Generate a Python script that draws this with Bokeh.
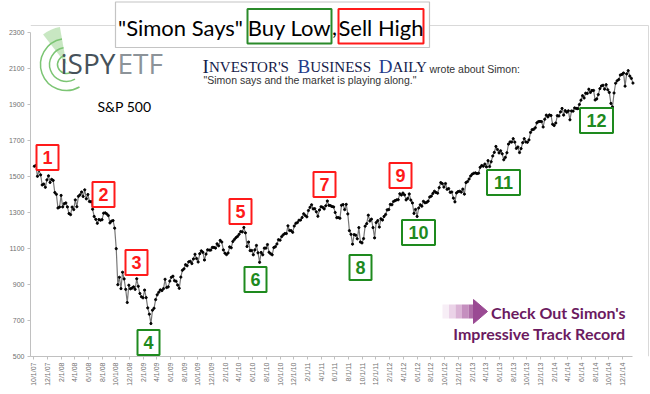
import pandas as pd
from math import pi
from bokeh.plotting import figure
from bokeh.models import Range1d, FixedTicker, Label, ColumnDataSource
from bokeh.core.properties import value
from bokeh.embed import file_html
from bokeh.resources import INLINE

# ---------------- data (weekly S&P 500 closes) ----------------
first_week = "2007-10-05"
close_2007 = [1557, 1561, 1501, 1535, 1509, 1453, 1458, 1440, 1481, 1504, 1467, 1484, 1478]
close_2008 = [1411, 1401, 1325, 1330, 1395, 1331, 1349, 1353, 1331, 1294, 1288, 1330, 1316,
              1370, 1332, 1390, 1398, 1414, 1389, 1426, 1376, 1400, 1361, 1360, 1318, 1278,
              1262, 1240, 1261, 1257, 1260, 1296, 1298, 1292, 1283, 1242, 1252, 1255, 1213,
              1099, 899, 940, 877, 968, 931, 873, 800, 896, 876, 880, 887, 873]
close_2009 = [932, 890, 850, 832, 826, 869, 827, 770, 735, 683, 757, 768, 816, 843, 857, 870,
              866, 877, 929, 883, 887, 919, 940, 946, 921, 918, 897, 879, 941, 979, 987, 1010,
              1004, 1026, 1029, 1016, 1042, 1068, 1044, 1025, 1071, 1087, 1079, 1036, 1069,
              1093, 1091, 1091, 1106, 1106, 1102, 1126]
close_2010 = [1115, 1145, 1136, 1092, 1074, 1066, 1075, 1109, 1104, 1139, 1150, 1160, 1167,
              1179, 1194, 1192, 1217, 1187, 1111, 1136, 1088, 1089, 1065, 1092, 1117, 1076,
              1023, 1078, 1065, 1102, 1102, 1122, 1079, 1071, 1065, 1105, 1110, 1125, 1149,
              1146, 1166, 1176, 1183, 1183, 1226, 1200, 1199, 1190, 1225, 1240, 1244, 1257, 1258]
close_2011 = [1272, 1293, 1283, 1276, 1311, 1329, 1343, 1320, 1321, 1304, 1279, 1314, 1332,
              1329, 1320, 1337, 1364, 1340, 1338, 1333, 1331, 1300, 1271, 1272, 1268, 1340,
              1344, 1316, 1345, 1292, 1199, 1179, 1124, 1177, 1174, 1154, 1216, 1136, 1131,
              1155, 1224, 1238, 1285, 1253, 1263, 1216, 1159, 1244, 1255, 1219, 1265, 1258]
close_2012 = [1278, 1289, 1315, 1316, 1345, 1343, 1361, 1366, 1370, 1371, 1404, 1397, 1408,
              1398, 1370, 1378, 1403, 1369, 1353, 1295, 1317, 1278, 1325, 1343, 1335, 1362,
              1354, 1356, 1363, 1386, 1391, 1406, 1418, 1411, 1407, 1438, 1466, 1460, 1441,
              1461, 1429, 1433, 1412, 1414, 1380, 1359, 1409, 1416, 1418, 1413, 1430, 1402]
close_2013 = [1466, 1472, 1486, 1503, 1513, 1518, 1520, 1516, 1518, 1551, 1561, 1557, 1569,
              1553, 1588, 1555, 1582, 1614, 1634, 1667, 1650, 1631, 1643, 1626, 1593, 1606,
              1632, 1680, 1692, 1691, 1710, 1691, 1656, 1664, 1633, 1655, 1688, 1710, 1692,
              1690, 1703, 1745, 1760, 1762, 1771, 1798, 1805, 1806, 1805, 1775, 1818, 1841]
close_2014 = [1831, 1842, 1839, 1790, 1783, 1797, 1838, 1836, 1859, 1878, 1841, 1866, 1857,
              1865, 1815, 1864, 1863, 1881, 1878, 1877, 1900, 1924, 1949, 1936, 1963, 1961,
              1985, 1967, 1978, 1978, 1925, 1931, 1955, 1988, 2003, 2007, 1985, 2010, 1982,
              1967, 1906, 1886, 1964, 2018, 2032, 2039, 2064, 2067, 2075, 2002, 2070, 2088]
close_2015 = [2058, 2045, 2019]

y_ticks = [500, 700, 900, 1100, 1300, 1500, 1700, 1900, 2100, 2300]
x_tick_labels = ["10/1/07", "12/1/07", "2/1/08", "4/1/08", "6/1/08", "8/1/08", "10/1/08", "12/1/08",
                 "2/1/09", "4/1/09", "6/1/09", "8/1/09", "10/1/09", "12/1/09", "2/1/10", "4/1/10",
                 "6/1/10", "8/1/10", "10/1/10", "12/1/10", "2/1/11", "4/1/11", "6/1/11", "8/1/11",
                 "10/1/11", "12/1/11", "2/1/12", "4/1/12", "6/1/12", "8/1/12", "10/1/12", "12/1/12",
                 "2/1/13", "4/1/13", "6/1/13", "8/1/13", "10/1/13", "12/1/13", "2/1/14", "4/1/14",
                 "6/1/14", "8/1/14", "10/1/14", "12/1/14"]
sell_high_labels = ["1", "2", "3", "5", "7", "9"]
buy_low_labels = ["4", "6", "8", "10", "11", "12"]

closes = close_2007 + close_2008 + close_2009 + close_2010 + close_2011 + close_2012 + close_2013 + close_2014 + close_2015
dates = pd.date_range(first_week, periods=len(closes), freq="7D")
x_ms = [int(d.timestamp() * 1000) for d in dates]
tick_ms = [int(pd.Timestamp(d).timestamp() * 1000) for d in pd.to_datetime(x_tick_labels, format="%m/%d/%y")]

# ---------------- layout: page pixels <-> data ----------------
W, H = 650, 392
AX_L, AX_R, AX_T, AX_B = 30, 632, 32, 356        # where the axes span on the page
D_START = pd.Timestamp("2007-09-18").timestamp() * 1000
D_END = pd.Timestamp("2015-01-14").timestamp() * 1000
V0, V1 = 500, 2300


def X(px):
    return D_START + (px - AX_L) / (AX_R - AX_L) * (D_END - D_START)


def Y(py):
    return V1 - (py - AX_T) / (AX_B - AX_T) * (V1 - V0)


def note(px, baseline, text, font, size, color, align="left", style="normal"):
    # place text by its baseline (page px), using the reliable 'middle' anchor
    p.add_layout(Label(x=X(px), y=Y(baseline - 0.34 * size), text=text, text_font=font,
                       text_font_size=f"{size}px", text_color=color, text_align=align,
                       text_baseline="middle", text_font_style=style))


p = figure(width=W, height=H, output_backend="svg", toolbar_location=None,
           x_range=Range1d(X(AX_L), X(W)), y_range=Range1d(V0, Y(0)),
           min_border_left=AX_L, min_border_right=0, min_border_top=0,
           min_border_bottom=H - AX_B)
p.background_fill_color = "white"
p.border_fill_color = "white"
p.outline_line_color = None
p.xgrid.visible = False
p.ygrid.visible = False

for ax in (p.xaxis[0], p.yaxis[0]):
    ax.axis_line_color = "#c0c0c0"
    ax.major_tick_line_color = "#c0c0c0"
    ax.major_tick_out = 3
    ax.major_tick_in = 0
    ax.minor_tick_line_color = None
    ax.major_label_text_font = "Liberation Sans"
    ax.major_label_text_font_size = "7px"
    ax.major_label_text_color = "#707070"
    ax.major_label_standoff = 3

p.yaxis[0].ticker = FixedTicker(ticks=y_ticks)
p.yaxis[0].bounds = (V0, V1)
p.xaxis[0].ticker = FixedTicker(ticks=tick_ms)
p.xaxis[0].bounds = (D_START, D_END)
p.xaxis[0].major_label_overrides = {t: l for t, l in zip(tick_ms, x_tick_labels)}
p.xaxis[0].major_label_orientation = pi / 2

# faint outer chart border (top and right sides fall inside the frame)
p.segment(x0=[X(AX_L), X(648)], y0=[Y(25), Y(25)], x1=[X(648), X(648)], y1=[Y(25), Y(AX_B)],
          line_color="#d9d9d9", line_width=1)

# title box
p.quad(left=[X(115)], right=[X(429)], top=[Y(1.5)], bottom=[Y(47)],
       fill_color="white", line_color="#c4c4c4", line_width=1.2)
p.quad(left=[X(247), X(338)], right=[X(331), X(423)], top=[Y(8.5)] * 2, bottom=[Y(43)] * 2,
       fill_color=None, line_color=["#2a8a2a", "#ff1a1a"], line_width=2)
for txt, cx in [('"Simon Says"', 180), ("Buy Low", 289), (",", 334), ("Sell High", 380.5)]:
    note(cx, 34, txt, "Lato", 22, "black", align="center")

# logo
p.wedge(x=[X(66)], y=[Y(64)], radius=38, radius_units="screen", start_angle=100 * pi / 180,
        end_angle=128 * pi / 180, fill_color="#9ad48f", fill_alpha=0.55, line_color=None)
p.arc(x=[X(66)] * 3, y=[Y(64)] * 3, radius=[9, 17, 26], radius_units="screen",
      start_angle=100 * pi / 180, end_angle=300 * pi / 180, line_color="#7cc574", line_width=1.5)
note(60, 72, "iSPY", "Open Sans", 28, "#46525a")
note(117, 72, "ETF", "Open Sans", 28, "#8c9399")
note(97, 111, "S&P 500", "Lato", 14, "black")

# Investor's Business Daily
for txt, x0, fs, col in [("I", 202, 19, "#14204a"), ("NVESTOR'S", 208.5, 15, "#14204a"),
                         ("B", 297, 19, "#1f3c8c"), ("USINESS", 309.7, 15, "#14204a"),
                         ("D", 378.3, 19, "#1f3c8c"), ("AILY", 392, 15, "#14204a")]:
    note(x0, 72, txt, "Liberation Serif", fs, col)
note(429, 72, "wrote about Simon:", "Liberation Sans", 10.5, "#333333")
note(203, 83, '"Simon says and the market is playing along."', "Liberation Sans", 10.5, "#333333")

# series
src = ColumnDataSource(dict(x=x_ms, y=closes))
p.line("x", "y", source=src, line_color="#777777", line_width=1.2)
p.scatter("x", "y", source=src, size=2.2, color="black")

# numbered boxes
sell_pos = [(47, 157), (103, 194), (136, 262), (240, 211), (324, 184), (400, 175)]
buy_pos = [(148, 342), (255, 279), (360, 267), (418, 232), (503, 182), (596, 120)]
for labels, pos, col in ((sell_high_labels, sell_pos, "#ff1a1a"), (buy_low_labels, buy_pos, "#1e8a1e")):
    s = ColumnDataSource(dict(x=[X(a) for a, b in pos], y=[Y(b) for a, b in pos],
                              w=[22 if len(t) == 1 else 33 for t in labels], t=labels))
    p.rect("x", "y", width="w", height=25, width_units="screen", height_units="screen", source=s,
           fill_color="white", line_color=col, line_width=2)
    p.text("x", "y", text="t", source=s, text_align="center", text_baseline="middle",
           text_font=value("Liberation Sans"), text_font_style="bold", text_font_size="18px",
           text_color=col)

# arrow + call to action
strip_cols = ["#f7eef6", "#ebd3e8", "#dab3d5", "#c58fbf", "#b06fa9"]
edges = [442, 448.5, 455, 461.5, 468, 474]
p.quad(left=[X(a) for a in edges[:-1]], right=[X(b) for b in edges[1:]],
       top=[Y(304)] * 5, bottom=[Y(318)] * 5, fill_color=strip_cols, line_color=None)
p.patch(x=[X(473), X(487), X(473)], y=[Y(299), Y(311), Y(323)], fill_color="#9a4a93",
        line_color="#9a4a93")
note(625, 317, "Check Out Simon's", "Lato", 16, "#6b1a60", align="right", style="bold")
note(625, 338, "Impressive Track Record", "Lato", 16, "#6b1a60", align="right", style="bold")

open("out.html", "w").write(file_html(p, INLINE))
